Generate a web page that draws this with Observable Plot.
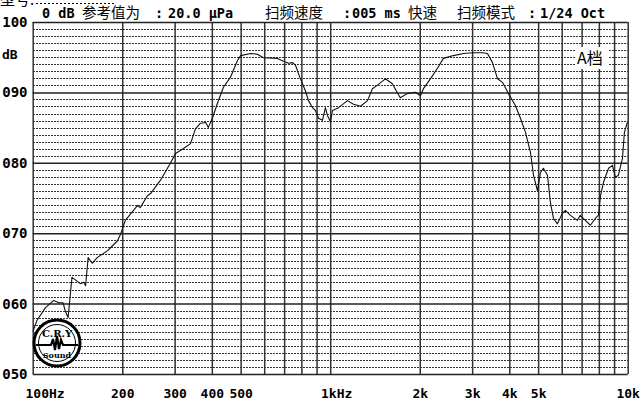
<!DOCTYPE html>
<html><head><meta charset="utf-8">
<script src="https://cdn.jsdelivr.net/npm/d3@7"></script>
<script src="https://cdn.jsdelivr.net/npm/@observablehq/plot@0.6"></script>
<style>
body{margin:0;background:#fff;}
#chart{position:relative;width:641px;height:405px;overflow:hidden;background:#fff;}
</style>
</head><body><div id="chart"></div>
<script>
// ---- data ----
const freqs = [100,103,110,117,122,126,128,131,135,139,
  144,148,150,153,158,164,178,192,197,204,
  224,229,242,248,268,289,301,320,338,351,
  365,380,388,401,416,436,460,486,498,538,
  567,594,662,694,721,745,762,791,822,842,
  869,889,910,938,960,975,998,1014,1062,1139,
  1193,1260,1330,1381,1436,1527,1611,1713,1808,1923,
  2003,2050,2163,2285,2392,2585,2795,2998,3237,3365,
  3498,3638,3779,3957,4176,4343,4516,4695,4806,4955,
  5071,5188,5353,5478,5606,5781,6010,6150,6394,6746,
  6903,7178,7464,7762,7943,8072,8260,8590,8851,9057,
  9268,9567,9710,9933];
const levels = [56.2,57.7,59.5,60.5,60.2,60.2,59.1,58.1,63.8,63.4,
  62.9,63.1,62.6,66.6,65.8,66.6,67.6,69.0,70.0,71.9,
  74.0,73.7,75.4,75.7,77.6,80.0,81.4,82.1,82.8,84.9,
  85.7,85.8,85.1,86.5,88.5,90.8,92.2,94.6,95.3,95.6,
  95.5,95.0,94.9,94.5,94.2,94.3,93.9,92.0,90.3,88.9,
  87.9,87.5,86.4,86.1,87.9,86.8,85.9,87.5,87.9,88.9,
  88.4,88.1,88.9,90.6,91.1,92.0,91.3,89.3,89.9,90.1,
  89.6,90.6,92.0,93.5,94.9,95.3,95.6,95.7,95.7,95.6,
  94.3,92.0,91.5,89.9,88.2,86.4,84.4,81.5,78.3,76.1,
  78.7,79.3,78.3,74.4,72.2,71.4,72.9,73.3,72.6,71.9,
  72.6,71.9,71.2,72.2,72.6,75.4,77.3,79.3,79.7,78.0,
  78.3,80.7,84.4,85.8];
const xTickValues = [100,200,300,400,500,700,1000,2000,3000,4000,5000,7000,10000];
const xTickLabels = ["100Hz","200","300","400","500","700","1kHz","2k","3k","4k","5k","7k","10k"];
const gridFreqs = [100,200,300,400,500,600,700,800,900,1000,2000,3000,4000,5000,6000,7000,8000,9000,10000];
const yTickValues = [50,60,70,80,90,100];
const yTickLabels = ["050","060","070","080","090","100"];
const minorDb = d3.range(51,100).filter(d => d % 10 !== 0);
const headerTexts = ["0 dB", "参考值为", ":", "20.0 μPa", "扫频速度", ":", "005 ms", "快速", "扫频模式", ":", "1/24 Oct"];
const unitLabel = "dB";
const modeLabel = "A档";

// ---- build ----
const points = freqs.map((f, i) => ({f, db: levels[i]}));
const xLab = new Map(xTickValues.map((v, i) => [v, xTickLabels[i]]));
const yLab = new Map(yTickValues.map((v, i) => [v, yTickLabels[i]]));
const mono = "'DejaVu Sans Mono', monospace";
const cjk = "'Noto Sans CJK SC', sans-serif";

const plot = Plot.plot({
  width: 641, height: 405,
  marginLeft: 32.7, marginRight: 13.3, marginTop: 22, marginBottom: 31,
  style: {background: "#fff", fontFamily: mono, fontSize: "13px", fontWeight: "bold", color: "#000", overflow: "visible"},
  x: {type: "log", domain: [100, 10000], label: null},
  y: {domain: [50, 100], label: null},
  marks: [
    Plot.ruleY(minorDb, {stroke: "#333", strokeWidth: 1, strokeDasharray: "2,1", shapeRendering: "crispEdges"}),
    Plot.ruleX(gridFreqs, {stroke: "#333", strokeWidth: 1.5}),
    Plot.ruleY(yTickValues, {stroke: "#222", strokeWidth: 1.5}),
    Plot.line(points, {x: "f", y: "db", stroke: "#111", strokeWidth: 1.1}),
    Plot.axisY({ticks: yTickValues, anchor: "left", tickSize: 0, tickPadding: 31, textAnchor: "start", tickFormat: d => yLab.get(d), fontSize: 14}),
    Plot.axisX({ticks: [100], anchor: "bottom", tickSize: 0, tickPadding: 14, textAnchor: "start", dx: -7.7, tickFormat: d => xLab.get(d)}),
    Plot.axisX({ticks: [1000], anchor: "bottom", tickSize: 0, tickPadding: 14, dx: 6, tickFormat: d => xLab.get(d)}),
    Plot.axisX({ticks: xTickValues.filter(v => v !== 100 && v !== 1000), anchor: "bottom", tickSize: 0, tickPadding: 14, tickFormat: d => xLab.get(d)})
  ]
});
document.getElementById("chart").appendChild(plot);

// ---- decorations (text, logo) ----
const svg = d3.select(plot);
const hx = [42, 82, 155, 168, 265, 343, 352, 408, 457, 528, 540];
const hdr = svg.append("g").attr("text-anchor", "start");
headerTexts.forEach((t, i) => {
  const isCjk = /[\u4e00-\u9fff]/.test(t);
  hdr.append("text").attr("x", hx[i]).attr("y", 18)
    .attr("font-family", isCjk ? cjk : mono)
    .attr("font-size", isCjk ? 14.5 : 13.5)
    .attr("font-weight", isCjk ? "normal" : "bold")
    .attr("fill", "#000").text(t);
});
// cut-off model line at very top
hdr.append("text").attr("x", 0).attr("y", 5).attr("font-family", cjk).attr("font-size", 15).attr("font-weight", "normal").attr("fill", "#000").text("型号:");
hdr.append("line").attr("x1", 36).attr("x2", 115).attr("y1", 3.5).attr("y2", 3.5)
  .attr("stroke", "#000").attr("stroke-width", 1).attr("stroke-dasharray", "2,2");
// dB unit label
svg.append("text").attr("text-anchor", "start").attr("x", 2).attr("y", 59).attr("font-family", mono).attr("font-size", 13)
  .attr("font-weight", "bold").attr("fill", "#000").text(unitLabel);
// mode label
svg.append("rect").attr("x", 575).attr("y", 47).attr("width", 33).attr("height", 22).attr("fill", "#fff");
svg.append("text").attr("text-anchor", "start").attr("x", 577).attr("y", 64).attr("font-family", cjk).attr("font-size", 16)
  .attr("font-weight", "normal").attr("fill", "#000").text(modeLabel);
// logo
const lg = svg.append("g").attr("transform", "translate(57,343)");
lg.append("circle").attr("r", 23).attr("fill", "#fff").attr("stroke", "#000").attr("stroke-width", 3);
lg.append("circle").attr("r", 18.5).attr("fill", "none").attr("stroke", "#000").attr("stroke-width", 1);
lg.append("text").attr("y", -6).attr("text-anchor", "middle").attr("font-family", "'DejaVu Serif', serif")
  .attr("font-size", 10).attr("font-weight", "bold").attr("fill", "#000").text("C.R.Y");
lg.append("text").attr("y", 15).attr("text-anchor", "middle").attr("font-family", "'DejaVu Serif', serif")
  .attr("font-size", 8).attr("fill", "#000").text("Sound");
lg.append("path").attr("d", "M-21,2 H-6 L-4,-4 L-2,7 L0,-7 L2,6 L4,-3 L6,2 H21")
  .attr("fill", "none").attr("stroke", "#000").attr("stroke-width", 2.2);
</script></body></html>
